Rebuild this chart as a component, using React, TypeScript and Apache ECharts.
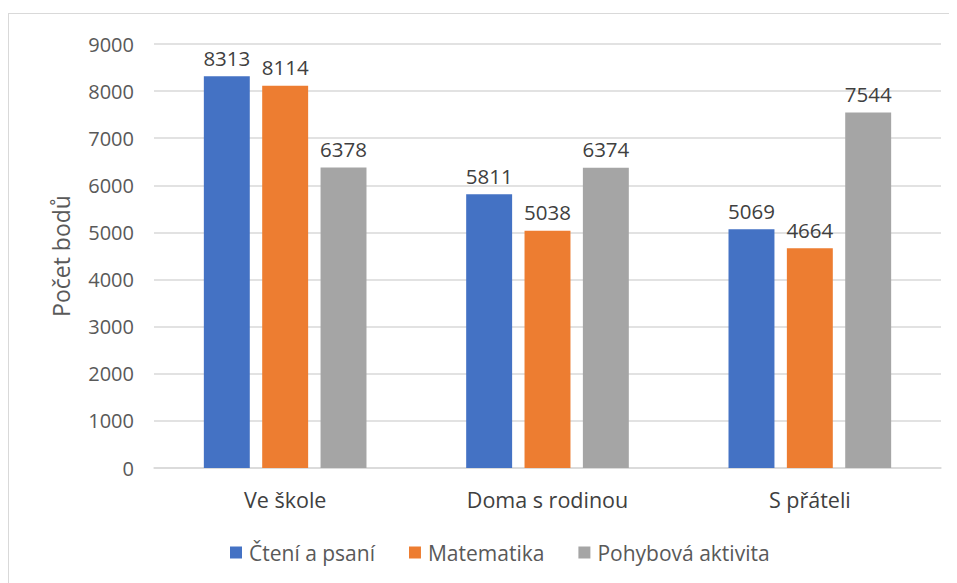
import React, { useEffect, useRef } from "react";
import * as echarts from "echarts";

const categories = ["Ve škole", "Doma s rodinou", "S přáteli"];
const seriesNames = ["Čtení a psaní", "Matematika", "Pohybová aktivita"];
const readingValues = [8313, 5811, 5069];
const mathValues = [8114, 5038, 4664];
const sportValues = [6378, 6374, 7544];
const colors = ["#4472C4", "#ED7D31", "#A5A5A5"];

const FONT = "'Open Sans', 'Noto Sans', sans-serif";

export default function App() {
  const ref = useRef<HTMLDivElement>(null);
  useEffect(() => {
    if (!ref.current) return;
    const chart = echarts.init(ref.current, undefined, { renderer: "svg" });
    const values = [readingValues, mathValues, sportValues];
    chart.setOption({
      animation: false,
      textStyle: { fontFamily: FONT },
      grid: { left: 145, top: 30, width: 787, height: 424 },
      legend: {
        top: 523,
        left: 216,
        itemWidth: 12,
        itemHeight: 12,
        itemGap: 34,
        icon: "rect",
        textStyle: { fontSize: 21, color: "#595959", fontFamily: FONT, padding: [0, 0, 0, 2] },
        data: seriesNames,
      },
      xAxis: {
        type: "category",
        data: categories,
        axisLine: { lineStyle: { color: "#D9D9D9", width: 1.5 } },
        axisTick: { show: false },
        axisLabel: { fontSize: 21.5, color: "#404040", margin: 20, fontFamily: FONT },
      },
      yAxis: {
        type: "value",
        min: 0,
        max: 9000,
        interval: 1000,
        name: "Počet bodů",
        nameLocation: "middle",
        nameGap: 82,
        nameTextStyle: { fontSize: 23, color: "#595959", fontFamily: FONT },
        axisLine: { show: false },
        axisTick: { show: false },
        axisLabel: {
          fontSize: 20,
          color: "#595959",
          margin: 20,
          fontFamily: FONT,
          formatter: (v: number) => String(v),
        },
        splitLine: { lineStyle: { color: "#D9D9D9", width: 1.5 } },
      },
      series: seriesNames.map((name, i) => ({
        name,
        type: "bar",
        data: values[i],
        itemStyle: { color: colors[i] },
        barGap: "27%",
        barCategoryGap: "38%",
        label: {
          show: true,
          position: "top",
          distance: 8,
          fontSize: 20.5,
          color: "#404040",
          fontFamily: FONT,
        },
      })),
    });
    return () => chart.dispose();
  }, []);
  return (
    <div
      ref={ref}
      style={{
        width: 962,
        height: 590,
        marginTop: 5,
        border: "1.5px solid #D9D9D9",
        boxSizing: "border-box",
        background: "#fff",
      }}
    />
  );
}
